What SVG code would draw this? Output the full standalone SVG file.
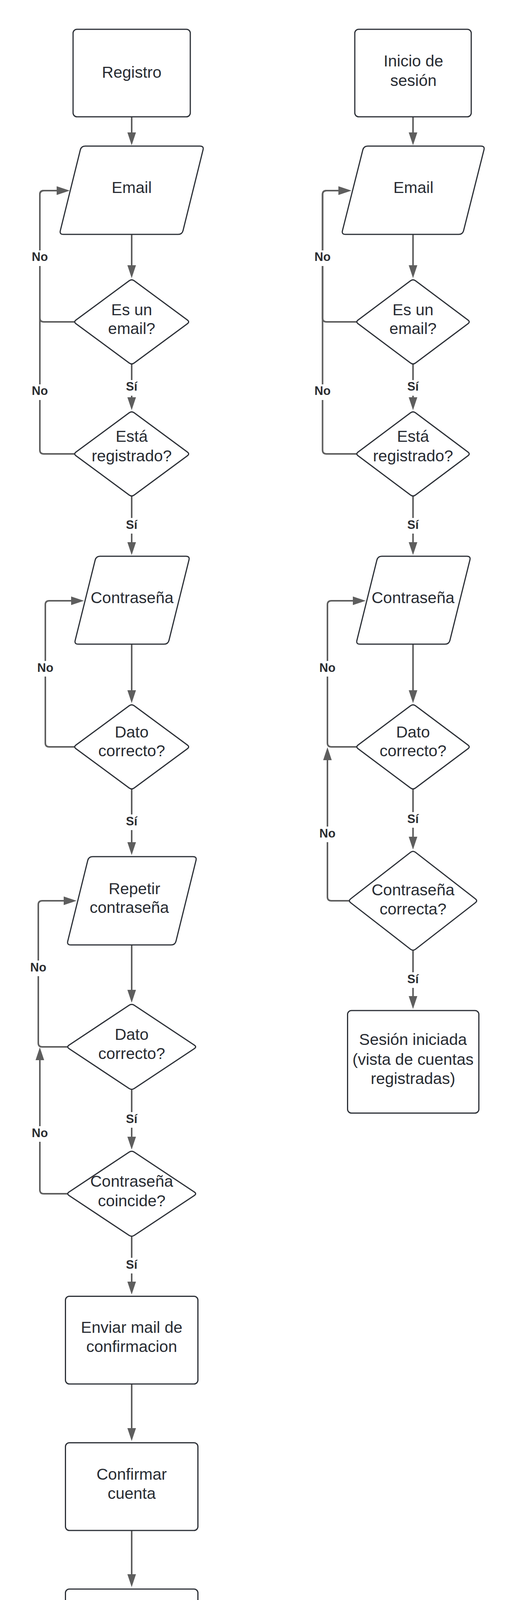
<svg xmlns="http://www.w3.org/2000/svg" width="1318" height="4369" viewBox="0 0 1318 4369">
<style>
.shape{fill:#ffffff;stroke:#2b2f36;stroke-width:3;stroke-linejoin:round}
.t{font-family:"Liberation Sans",Arial,sans-serif;font-size:41px;fill:#282c33;text-anchor:middle}
.lbl{font-family:"Liberation Sans",Arial,sans-serif;font-size:31px;font-weight:bold;fill:#2b2d31;text-anchor:middle}
.bg{fill:#ffffff}
.c{fill:none;stroke:#5e5e5e;stroke-width:4}
.arr{marker-end:url(#ah)}
</style>
<defs>
<marker id="ah" markerUnits="userSpaceOnUse" markerWidth="33" markerHeight="22" refX="3" refY="11" orient="auto">
<path d="M0,0 L33,11 L0,22 Z" fill="#5e5e5e"/>
</marker>
</defs>
<rect width="1318" height="4369" fill="#ffffff"/>

<g id="connectors">
<path class="c arr" d="M337,299 V342"/>
<path class="c arr" d="M337,600 V682"/>
<path class="c arr" d="M337,933 V1020"/>
<path class="c arr" d="M337,1270 V1391"/>
<path class="c arr" d="M337,1649 V1770"/>
<path class="c arr" d="M337,2020 V2159"/>
<path class="c arr" d="M337,2419 V2537"/>
<path class="c arr" d="M337,2789 V2913"/>
<path class="c arr" d="M337,3164 V3284"/>
<path class="c arr" d="M337,3543 V3659"/>
<path class="c arr" d="M337,3918 V4033"/>
<path class="c arr" d="M1057,299 V342"/>
<path class="c arr" d="M1057,600 V682"/>
<path class="c arr" d="M1057,933 V1020"/>
<path class="c arr" d="M1057,1270 V1391"/>
<path class="c arr" d="M1057,1649 V1770"/>
<path class="c arr" d="M1057,2020 V2145"/>
<path class="c arr" d="M1057,2433 V2553"/>
<path class="c arr" d="M190,824 H112 Q102,824 102,814 V498 Q102,488 112,488 H148"/>
<path class="c arr" d="M190,1162 H112 Q102,1162 102,1152 V498 Q102,488 112,488 H148"/>
<path class="c arr" d="M190,1912 H126 Q116,1912 116,1902 V1548 Q116,1538 126,1538 H185"/>
<path class="c arr" d="M172,2680 H108 Q98,2680 98,2670 V2316 Q98,2306 108,2306 H166"/>
<path class="c arr" d="M172,3056 H112 Q102,3056 102,3046 V2711"/>
<path class="c arr" d="M912,824 H835.5 Q825.5,824 825.5,814 V498 Q825.5,488 835.5,488 H869"/>
<path class="c arr" d="M912,1162 H835.5 Q825.5,1162 825.5,1152 V498 Q825.5,488 835.5,488 H869"/>
<path class="c arr" d="M912,1912 H848 Q838,1912 838,1902 V1548 Q838,1538 848,1538 H906"/>
<path class="c arr" d="M893,2306 H848 Q838,2306 838,2296 V1943"/>
<g id="labels">
<rect class="bg" x="317" y="973" width="40" height="40"/><text class="lbl" x="337" y="1000">Sí</text>
<rect class="bg" x="317" y="1326" width="40" height="40"/><text class="lbl" x="337" y="1353.5">Sí</text>
<rect class="bg" x="317" y="2085" width="40" height="40"/><text class="lbl" x="337" y="2112.5">Sí</text>
<rect class="bg" x="317" y="2847" width="40" height="40"/><text class="lbl" x="337" y="2874.5">Sí</text>
<rect class="bg" x="317" y="3220" width="40" height="40"/><text class="lbl" x="337" y="3247.5">Sí</text>
<rect class="bg" x="1037" y="973" width="40" height="40"/><text class="lbl" x="1057" y="1000">Sí</text>
<rect class="bg" x="1037" y="1326" width="40" height="40"/><text class="lbl" x="1057" y="1353.5">Sí</text>
<rect class="bg" x="1037" y="2079" width="40" height="40"/><text class="lbl" x="1057" y="2106.5">Sí</text>
<rect class="bg" x="1037" y="2489" width="40" height="40"/><text class="lbl" x="1057" y="2516.5">Sí</text>
<rect class="bg" x="78" y="641" width="48" height="40"/><text class="lbl" x="102" y="668">No</text>
<rect class="bg" x="78" y="984" width="48" height="40"/><text class="lbl" x="102" y="1011">No</text>
<rect class="bg" x="92" y="1692" width="48" height="40"/><text class="lbl" x="116" y="1719.5">No</text>
<rect class="bg" x="74" y="2459" width="48" height="40"/><text class="lbl" x="98" y="2486.5">No</text>
<rect class="bg" x="78" y="2883" width="48" height="40"/><text class="lbl" x="102" y="2910.5">No</text>
<rect class="bg" x="801.5" y="641" width="48" height="40"/><text class="lbl" x="825.5" y="668">No</text>
<rect class="bg" x="801.5" y="984" width="48" height="40"/><text class="lbl" x="825.5" y="1011">No</text>
<rect class="bg" x="814" y="1692" width="48" height="40"/><text class="lbl" x="838" y="1719.5">No</text>
<rect class="bg" x="814" y="2116" width="48" height="40"/><text class="lbl" x="838" y="2143.5">No</text>
</g>
</g>

<g id="registro">
<rect class="shape" x="187" y="75" width="300" height="224" rx="10"/>
<text class="t" x="337" y="199">Registro</text>
</g>
<g id="email-registro">
<path class="shape" d="M218,374 H512 Q522,374 519.59,383.71 L468.41,590.29 Q466,600 456,600 H162 Q152,600 154.41,590.29 L205.59,383.71 Q208,374 218,374 Z"/>
<text class="t" x="337" y="494">Email</text>
</g>
<g id="es-email-registro">
<path class="shape" transform="translate(337,824)" d="M-6.44,-105.25 Q0,-110 6.44,-105.25 L142.56,-4.75 Q149,0 142.56,4.75 L6.44,105.25 Q0,110 -6.44,105.25 L-142.56,4.75 Q-149,0 -142.56,-4.75 Z"/>
<text class="t" x="337" y="807">Es un</text>
<text class="t" x="337" y="855">email?</text>
</g>
<g id="registrado-registro">
<path class="shape" transform="translate(337,1162)" d="M-6.44,-105.25 Q0,-110 6.44,-105.25 L142.56,-4.75 Q149,0 142.56,4.75 L6.44,105.25 Q0,110 -6.44,105.25 L-142.56,4.75 Q-149,0 -142.56,-4.75 Z"/>
<text class="t" x="337" y="1131">Está</text>
<text class="t" x="337" y="1180.5">registrado?</text>
</g>
<g id="contrasena-registro">
<path class="shape" d="M256,1424 H476 Q486,1424 483.58,1433.71 L432.42,1639.29 Q430,1649 420,1649 H200 Q190,1649 192.42,1639.29 L243.58,1433.71 Q246,1424 256,1424 Z"/>
<text class="t" x="338" y="1544">Contraseña</text>
</g>
<g id="dato-correcto-registro">
<path class="shape" transform="translate(337,1912)" d="M-6.44,-105.25 Q0,-110 6.44,-105.25 L142.56,-4.75 Q149,0 142.56,4.75 L6.44,105.25 Q0,110 -6.44,105.25 L-142.56,4.75 Q-149,0 -142.56,-4.75 Z"/>
<text class="t" x="337" y="1888">Dato</text>
<text class="t" x="337" y="1935.5">correcto?</text>
</g>
<g id="repetir-contrasena">
<path class="shape" d="M237,2193 H494 Q504,2193 501.59,2202.71 L450.41,2409.29 Q448,2419 438,2419 H181 Q171,2419 173.41,2409.29 L224.59,2202.71 Q227,2193 237,2193 Z"/>
<text class="t" x="344" y="2289">Repetir</text>
<text class="t" x="331" y="2336.5">contraseña</text>
</g>
<g id="dato-correcto-repetir">
<path class="shape" transform="translate(337,2680)" d="M-6.66,-106.57 Q0,-111 6.66,-106.57 L160.34,-4.43 Q167,0 160.34,4.43 L6.66,106.57 Q0,111 -6.66,106.57 L-160.34,4.43 Q-167,0 -160.34,-4.43 Z"/>
<text class="t" x="337" y="2662">Dato</text>
<text class="t" x="337" y="2711">correcto?</text>
</g>
<g id="contrasena-coincide">
<path class="shape" transform="translate(337,3056)" d="M-6.66,-106.57 Q0,-111 6.66,-106.57 L160.34,-4.43 Q167,0 160.34,4.43 L6.66,106.57 Q0,111 -6.66,106.57 L-160.34,4.43 Q-167,0 -160.34,-4.43 Z"/>
<text class="t" x="337" y="3038">Contraseña</text>
<text class="t" x="337" y="3088">coincide?</text>
</g>
<g id="enviar-mail">
<rect class="shape" x="167.5" y="3318.5" width="339" height="224.5" rx="10"/>
<text class="t" x="337" y="3411.5">Enviar mail de</text>
<text class="t" x="337" y="3461">confirmacion</text>
</g>
<g id="confirmar-cuenta">
<rect class="shape" x="167.5" y="3693.5" width="339" height="224.5" rx="10"/>
<text class="t" x="337" y="3787.5">Confirmar</text>
<text class="t" x="337" y="3837">cuenta</text>
</g>
<g id="cuenta-registrada">
<rect class="shape" x="167.5" y="4068" width="339" height="225" rx="10"/>
<text class="t" x="337" y="4161">Cuenta</text>
<text class="t" x="337" y="4211.5">registrada</text>
</g>

<g id="inicio-sesion">
<rect class="shape" x="908" y="75" width="298" height="224" rx="10"/>
<text class="t" x="1058" y="170">Inicio de</text>
<text class="t" x="1058" y="220">sesión</text>
</g>
<g id="email-sesion">
<path class="shape" d="M941,374 H1231 Q1241,374 1238.55,383.7 L1186.45,590.3 Q1184,600 1174,600 H884 Q874,600 876.45,590.3 L928.55,383.7 Q931,374 941,374 Z"/>
<text class="t" x="1058" y="494">Email</text>
</g>
<g id="es-email-sesion">
<path class="shape" transform="translate(1057,824)" d="M-6.41,-105.21 Q0,-110 6.41,-105.21 L140.59,-4.79 Q147,0 140.59,4.79 L6.41,105.21 Q0,110 -6.41,105.21 L-140.59,4.79 Q-147,0 -140.59,-4.79 Z"/>
<text class="t" x="1057" y="807">Es un</text>
<text class="t" x="1057" y="855">email?</text>
</g>
<g id="registrado-sesion">
<path class="shape" transform="translate(1057,1162)" d="M-6.41,-105.21 Q0,-110 6.41,-105.21 L140.59,-4.79 Q147,0 140.59,4.79 L6.41,105.21 Q0,110 -6.41,105.21 L-140.59,4.79 Q-147,0 -140.59,-4.79 Z"/>
<text class="t" x="1057" y="1131">Está</text>
<text class="t" x="1057" y="1180.5">registrado?</text>
</g>
<g id="contrasena-sesion">
<path class="shape" d="M977,1424 H1195 Q1205,1424 1202.58,1433.71 L1151.42,1639.29 Q1149,1649 1139,1649 H921 Q911,1649 913.42,1639.29 L964.58,1433.71 Q967,1424 977,1424 Z"/>
<text class="t" x="1057" y="1544">Contraseña</text>
</g>
<g id="dato-correcto-sesion">
<path class="shape" transform="translate(1057,1912)" d="M-6.41,-105.21 Q0,-110 6.41,-105.21 L140.59,-4.79 Q147,0 140.59,4.79 L6.41,105.21 Q0,110 -6.41,105.21 L-140.59,4.79 Q-147,0 -140.59,-4.79 Z"/>
<text class="t" x="1057" y="1888">Dato</text>
<text class="t" x="1057" y="1935.5">correcto?</text>
</g>
<g id="contrasena-correcta">
<path class="shape" transform="translate(1057,2306)" d="M-6.32,-124.09 Q0,-129 6.32,-124.09 L159.68,-4.91 Q166,0 159.68,4.91 L6.32,124.09 Q0,129 -6.32,124.09 L-159.68,4.91 Q-166,0 -159.68,-4.91 Z"/>
<text class="t" x="1057" y="2292">Contraseña</text>
<text class="t" x="1057" y="2341">correcta?</text>
</g>
<g id="sesion-iniciada">
<rect class="shape" x="889.5" y="2587" width="336" height="262.5" rx="10"/>
<text class="t" x="1057" y="2674.5">Sesión iniciada</text>
<text class="t" x="1057" y="2725.5">(vista de cuentas</text>
<text class="t" x="1057" y="2775">registradas)</text>
</g>
</svg>
